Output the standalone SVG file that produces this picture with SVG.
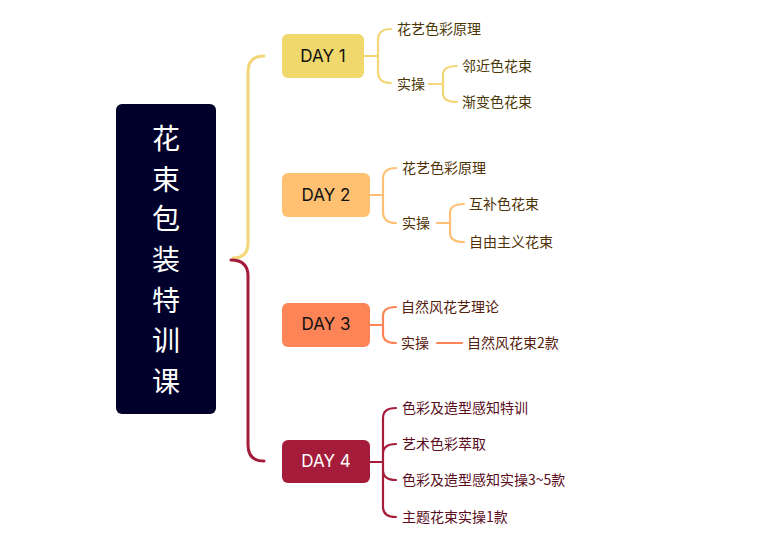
<svg xmlns="http://www.w3.org/2000/svg" width="771" height="550" viewBox="0 0 771 550">
<style>
.ln{fill:none;stroke-width:2.2;stroke-linecap:round;stroke-linejoin:round}
.main{fill:none;stroke-width:3;stroke-linecap:round}
.day{font-family:"Inter","Noto Sans",sans-serif;font-size:17px;text-anchor:middle;dominant-baseline:central}
.leaf{font-family:"Noto Sans CJK SC","Noto Sans",sans-serif;font-size:14px;dominant-baseline:central}
.root{font-family:"Noto Sans CJK SC",sans-serif;font-size:28px;fill:#fff;text-anchor:middle;dominant-baseline:central}
.c1{stroke:#f2d677}.c2{stroke:#ffc075}.c3{stroke:#fd8456}.c4{stroke:#a51c3a}
.t1{fill:#4a3806}.t2{fill:#4f3206}.t3{fill:#55200c}.t4{fill:#5a0c1c}
</style>
<g id="connectors">
<path class="main c1" d="M233 258 Q248 258 248 243 L248 72 Q248 56 264 56"/>
<path class="main c4" d="M231 260 Q248 260 248 276 L248 445 Q248 461 264 461"/>
<path class="ln c1" d="M364 56 H378 M391 29 Q378 29 378 40 L378 72 Q378 83 391 83 M429 84 H443 M457 66 Q443 66 443 75 L443 93 Q443 102 457 102"/>
<path class="ln c2" d="M370 195 H383 M396 168 Q383 168 383 179 L383 212 Q383 223 396 223 M437 223 H450 M464 204 Q450 204 450 213 L450 233 Q450 242 464 242"/>
<path class="ln c3" d="M370 325 H383 M396 307 Q383 307 383 316 L383 334 Q383 343 396 343 M437 343 H462"/>
<path class="ln c4" d="M370 462 H383 M396 408 Q383 408 383 418 L383 507 Q383 517 396 517 M383 454 Q383 444 396 444 M383 470 Q383 480 396 480"/>
</g>
<g id="root">
<rect x="116" y="104" width="100" height="310" rx="6" fill="#00002a"/>
<text class="root" x="166" y="137">花</text>
<text class="root" x="166" y="178">束</text>
<text class="root" x="166" y="217">包</text>
<text class="root" x="166" y="258">装</text>
<text class="root" x="166" y="299">特</text>
<text class="root" x="166" y="339">训</text>
<text class="root" x="166" y="380">课</text>
</g>
<g id="day1">
<rect x="282" y="34" width="82" height="44" rx="6" fill="#f0d86c"/>
<text class="day" x="323" y="56" fill="#111">DAY 1</text>
</g>
<g id="day1-leaves">
<text class="leaf t1" x="397" y="28">花艺色彩原理</text>
<text class="leaf t1" x="397" y="83">实操</text>
<text class="leaf t1" x="462" y="65">邻近色花束</text>
<text class="leaf t1" x="462" y="101">渐变色花束</text>
</g>
<g id="day2">
<rect x="282" y="173" width="88" height="44" rx="6" fill="#ffc072"/>
<text class="day" x="326" y="195" fill="#111">DAY 2</text>
</g>
<g id="day2-leaves">
<text class="leaf t2" x="402" y="167">花艺色彩原理</text>
<text class="leaf t2" x="402" y="222">实操</text>
<text class="leaf t2" x="469" y="203">互补色花束</text>
<text class="leaf t2" x="469" y="241">自由主义花束</text>
</g>
<g id="day3">
<rect x="282" y="303" width="88" height="44" rx="6" fill="#fd8456"/>
<text class="day" x="326" y="324" fill="#111">DAY 3</text>
</g>
<g id="day3-leaves">
<text class="leaf t3" x="401" y="306">自然风花艺理论</text>
<text class="leaf t3" x="401" y="342">实操</text>
<text class="leaf t3" x="467" y="342">自然风花束2款</text>
</g>
<g id="day4">
<rect x="282" y="440" width="88" height="43" rx="6" fill="#a51c3a"/>
<text class="day" x="326" y="461" fill="#fff">DAY 4</text>
</g>
<g id="day4-leaves">
<text class="leaf t4" x="402" y="407">色彩及造型感知特训</text>
<text class="leaf t4" x="402" y="443">艺术色彩萃取</text>
<text class="leaf t4" x="402" y="479">色彩及造型感知实操3~5款</text>
<text class="leaf t4" x="402" y="516">主题花束实操1款</text>
</g>
</svg>
